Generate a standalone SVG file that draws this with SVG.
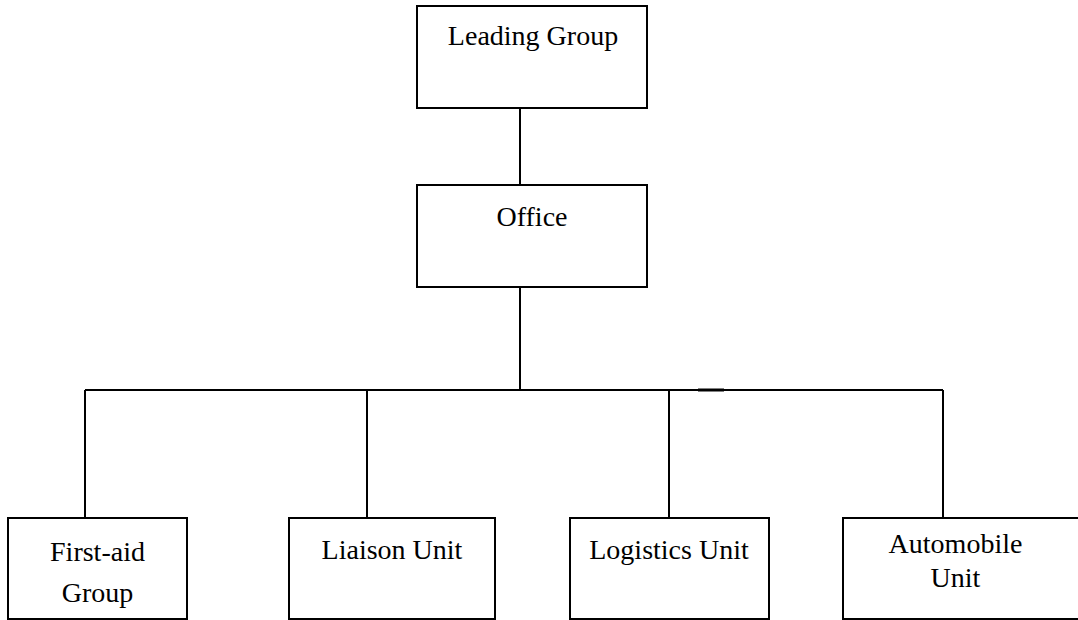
<svg xmlns="http://www.w3.org/2000/svg" width="1078" height="620" viewBox="0 0 1078 620">
<style>
.box{fill:#fff;stroke:#000;stroke-width:2}
.t{font-family:"Liberation Serif","Times New Roman",serif;font-size:28px;fill:#000;text-anchor:middle}
.c{stroke:#000;stroke-width:2;fill:none}
</style>
<rect width="1078" height="620" fill="#fff"/>
<g id="connectors">
<line class="c" x1="520" y1="108" x2="520" y2="185"/>
<line class="c" x1="520" y1="287" x2="520" y2="390"/>
<line class="c" x1="85" y1="390" x2="943" y2="390"/>
<line class="c" x1="85" y1="390" x2="85" y2="518"/>
<line class="c" x1="367" y1="390" x2="367" y2="518"/>
<line class="c" x1="669" y1="390" x2="669" y2="518"/>
<line class="c" x1="943" y1="390" x2="943" y2="518"/>
<line stroke="#000" stroke-width="3" x1="698" y1="390" x2="724" y2="390"/>
</g>
<g id="leading-group">
<rect class="box" x="417" y="6" width="230" height="102"/>
<text class="t" x="533" y="45">Leading Group</text>
</g>
<g id="office">
<rect class="box" x="417" y="185" width="230" height="102"/>
<text class="t" x="532" y="226">Office</text>
</g>
<g id="first-aid-group">
<rect class="box" x="8" y="518" width="179" height="101"/>
<text class="t" x="97.5" y="561">First-aid</text>
<text class="t" x="97.5" y="602">Group</text>
</g>
<g id="liaison-unit">
<rect class="box" x="289" y="518" width="206" height="101"/>
<text class="t" x="392" y="559">Liaison Unit</text>
</g>
<g id="logistics-unit">
<rect class="box" x="570" y="518" width="199" height="101"/>
<text class="t" x="669" y="559">Logistics Unit</text>
</g>
<g id="automobile-unit">
<rect class="box" x="843" y="518" width="250" height="101"/>
<text class="t" x="955.5" y="553">Automobile</text>
<text class="t" x="955.5" y="587">Unit</text>
</g>
</svg>
